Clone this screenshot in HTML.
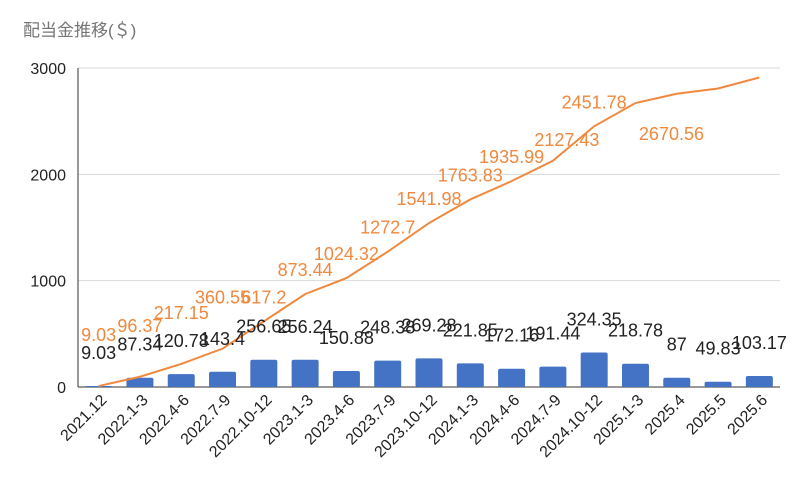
<!DOCTYPE html>
<html><head><meta charset="utf-8"><style>
html,body{margin:0;padding:0;background:#fff;}
svg text{font-family:"Liberation Sans","Noto Sans CJK JP",sans-serif;}
</style></head><body>
<svg id="chart" width="800" height="493" xmlns="http://www.w3.org/2000/svg">
<text x="23" y="36" font-size="17" fill="#757575">配当金推移(＄)</text>
<g id="grid"></g><g id="bars"></g><g id="line"></g><g id="labels"></g><g id="xaxis"></g>
</svg>
<script>
const categories=["2021.12","2022.1-3","2022.4-6","2022.7-9","2022.10-12","2023.1-3","2023.4-6","2023.7-9","2023.10-12","2024.1-3","2024.4-6","2024.7-9","2024.10-12","2025.1-3","2025.4","2025.5","2025.6"];
const barValues=[9.03,87.34,120.78,143.4,256.65,256.24,150.88,248.38,269.28,221.85,172.16,191.44,324.35,218.78,87,49.83,103.17];
const cumValues=[9.03,96.37,217.15,360.55,617.2,873.44,1024.32,1272.7,1541.98,1763.83,1935.99,2127.43,2451.78,2670.56,2757.56,2807.39,2910.56];
const cumLabels=["9.03","96.37","217.15","360.55","617.2","873.44","1024.32","1272.7","1541.98","1763.83","1935.99","2127.43","2451.78","2670.56","","",""];
const barLabels=["9.03","87.34","120.78","143.4","256.65","256.24","150.88","248.38","269.28","221.85","172.16","191.44","324.35","218.78","87","49.83","103.17"];
const yTicks=[0,1000,2000,3000];
const NS="http://www.w3.org/2000/svg";
const L=78,R=780,Y0=387,Y1=68,MAX=3000;
const band=(R-L)/categories.length;
const xs=i=>L+band*(i+0.5);
const ys=v=>Y0-(v/MAX)*(Y0-Y1);
function mk(t,a,p){const e=document.createElementNS(NS,t);for(const k in a)e.setAttribute(k,a[k]);p.appendChild(e);return e;}
const grid=document.getElementById('grid');
yTicks.forEach(v=>{
  if(v>0){const g=mk('line',{x1:L,x2:R,y1:ys(v),y2:ys(v),stroke:'#dadada','stroke-width':1},grid);
  
  }
  const t=mk('text',{x:66,y:ys(v)+6,'text-anchor':'end','font-size':16,fill:'#222'},grid);t.textContent=v;
  
  
});
const ax=mk('line',{x1:L,x2:L,y1:Y1,y2:Y0,stroke:'#333','stroke-width':1},grid);


const bx=mk('line',{x1:L,x2:R,y1:Y0,y2:Y0,stroke:'#333','stroke-width':1},grid);


const bars=document.getElementById('bars'),labels=document.getElementById('labels');
barValues.forEach((v,i)=>{
  const w=27,top=ys(v);
  const b=mk('rect',{x:xs(i)-w/2,y:top,width:w,height:Math.max(Y0-top,1),rx:2,fill:'#4472c4'},bars);
  
  
  const t=mk('text',{x:xs(i),y:top-27,'text-anchor':'middle','font-size':18,fill:'#222'},labels);t.textContent=barLabels[i];
  
  
});
const pts=cumValues.map((v,i)=>xs(i)+','+ys(v)).join(' ');
const pl=mk('polyline',{points:pts,fill:'none',stroke:'#f0883e','stroke-width':2},document.getElementById('line'));


cumValues.forEach((v,i)=>{
  if(!cumLabels[i])return;
  let dx=0,dy=-18;
  if(i<4)dy=-45;
  if(i===13){dx=36;dy=37;}
  if(i===11){dx=14;dy=-15;}
  const t=mk('text',{x:xs(i)+dx,y:ys(v)+dy,'text-anchor':'middle','font-size':18,fill:'#f0883e'},labels);t.textContent=cumLabels[i];
  
  
});
const xa=document.getElementById('xaxis');
categories.forEach((c,i)=>{
  const x=xs(i)+9,y=401;
  const t=mk('text',{x:x,y:y,'text-anchor':'end','font-size':16,fill:'#222',transform:`rotate(-45 ${x} ${y})`},xa);t.textContent=c;
  
  
});
</script>
</body></html>
